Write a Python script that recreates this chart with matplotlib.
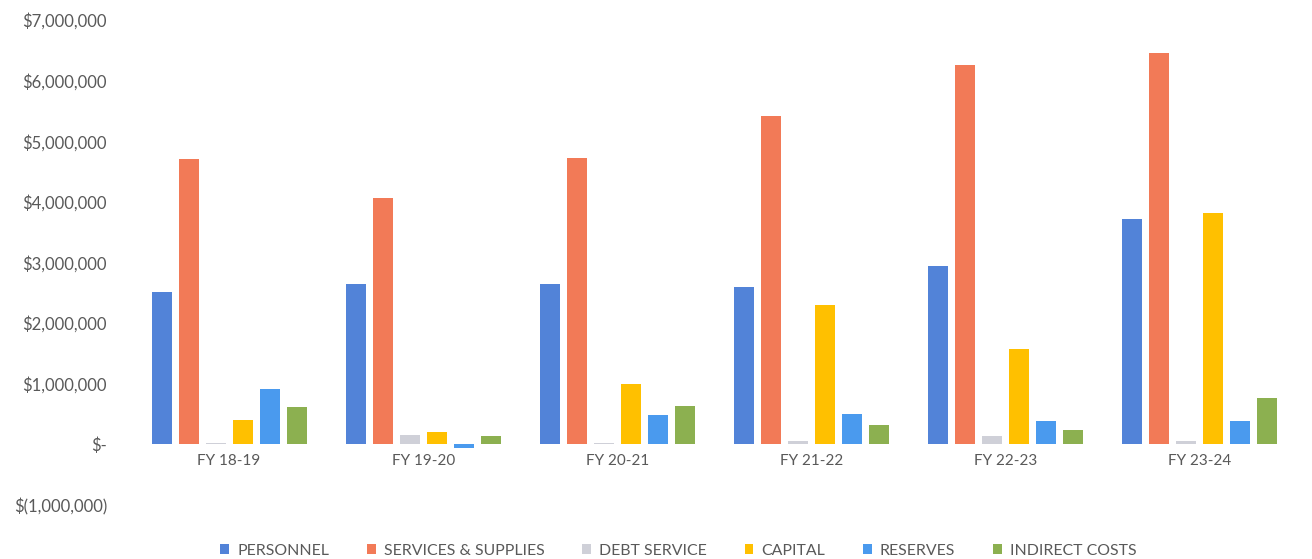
import matplotlib.pyplot as plt
import numpy as np
from matplotlib.ticker import FuncFormatter, MultipleLocator

years = ['FY 18-19', 'FY 19-20', 'FY 20-21', 'FY 21-22', 'FY 22-23', 'FY 23-24']

personnel = [2520000, 2650000, 2650000, 2600000, 2950000, 3710000]
services_supplies = [4700000, 4070000, 4730000, 5410000, 6250000, 6460000]
debt_service = [20000, 150000, 20000, 50000, 140000, 50000]
capital = [400000, 200000, 990000, 2300000, 1580000, 3820000]
reserves = [920000, -60000, 490000, 500000, 380000, 390000]
indirect_costs = [610000, 140000, 630000, 320000, 240000, 770000]

series = [
    ('PERSONNEL', personnel, '#5283d8'),
    ('SERVICES & SUPPLIES', services_supplies, '#f27a57'),
    ('DEBT SERVICE', debt_service, '#cfd0d8'),
    ('CAPITAL', capital, '#ffc000'),
    ('RESERVES', reserves, '#4a9aee'),
    ('INDIRECT COSTS', indirect_costs, '#8cb050'),
]

plt.rcParams['font.family'] = ['Lato', 'DejaVu Sans']
text_color = '#595959'


def money(v, pos):
    if v == 0:
        return '$-'
    if v < 0:
        return '$({:,.0f})'.format(-v)
    return '${:,.0f}'.format(v)


fig = plt.figure(figsize=(13.12, 5.59), dpi=100)
ax = fig.add_axes([0.1006, 0.0966, 0.888, 0.8676])

x = np.arange(len(years))
step = 0.139
width = 0.103
for i, (name, values, color) in enumerate(series):
    offset = (i - 2.5) * step
    ax.bar(x + offset, values, width, color=color, label=name)

ax.set_xlim(-0.5, len(years) - 0.5)
ax.set_ylim(-1000000, 7000000)
ax.yaxis.set_major_locator(MultipleLocator(1000000))
ax.yaxis.set_major_formatter(FuncFormatter(money))

for side in ['top', 'right', 'left', 'bottom']:
    ax.spines[side].set_visible(False)
ax.tick_params(axis='y', length=0, pad=18, labelsize=12, labelcolor=text_color)
ax.tick_params(axis='x', length=0, labelbottom=False)

# category labels sit just under the zero line
for xi, label in zip(x, years):
    ax.text(xi, -270000, label, ha='center', va='center', fontsize=11, color=text_color)

ax.legend(loc='upper center', bbox_to_anchor=(0.469, -0.05), ncol=6, frameon=False,
          fontsize=11.4, labelcolor=text_color, handlelength=0.55, handleheight=0.55,
          columnspacing=2.4, handletextpad=0.5)

plt.savefig('out.png', dpi=100)
